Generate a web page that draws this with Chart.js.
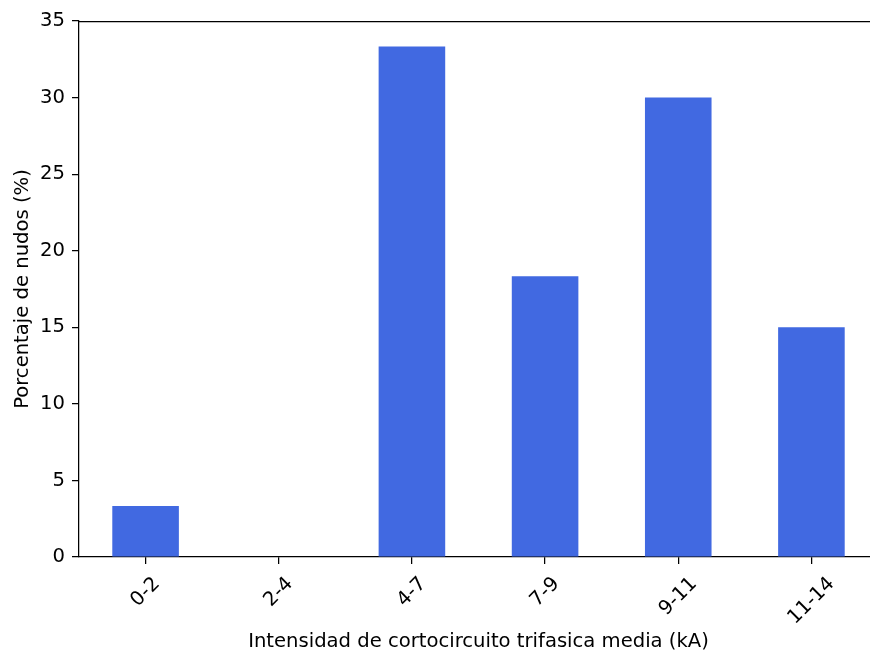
<!DOCTYPE html>
<html>
<head>
<meta charset="utf-8">
<script src="https://cdn.jsdelivr.net/npm/chart.js@4/dist/chart.umd.min.js"></script>
<style>
  html, body { margin: 0; padding: 0; background: #fff; overflow: hidden; }
  #wrap { width: 870px; height: 655px; overflow: hidden; position: relative; }
  canvas { display: block; }
</style>
</head>
<body>
<div id="wrap"><canvas id="c" width="880" height="655"></canvas></div>
<script>
const categories = ["0-2", "2-4", "4-7", "7-9", "9-11", "11-14"];
const percentages = [3.33, 0, 33.33, 18.33, 30.0, 15.0];
const yTicks = [0, 5, 10, 15, 20, 25, 30, 35];
const xTitle = "Intensidad de cortocircuito trifasica media (kA)";
const yTitle = "Porcentaje de nudos (%)";

const FONT = "'DejaVu Sans', sans-serif";
const FS = 19.6;
const TFS = 19.6;

const framePlugin = {
  id: 'frame',
  afterDraw(chart) {
    const { ctx, chartArea, scales } = chart;
    ctx.save();
    // top and right spines
    ctx.strokeStyle = '#000';
    ctx.lineWidth = 1.25;
    ctx.beginPath();
    ctx.moveTo(chartArea.left, chartArea.top + 0.5);
    ctx.lineTo(chartArea.right, chartArea.top + 0.5);
    ctx.moveTo(chartArea.right, chartArea.top);
    ctx.lineTo(chartArea.right, chartArea.bottom);
    ctx.stroke();
    // rotated x tick labels (centered on tick, like matplotlib rotation=45)
    ctx.fillStyle = '#000';
    ctx.font = FS + 'px ' + FONT;
    ctx.textAlign = 'center';
    ctx.textBaseline = 'middle';
    const topY = chartArea.bottom + 19;
    categories.forEach((lab, i) => {
      const x = scales.x.getPixelForValue(i);
      const w = ctx.measureText(lab).width;
      const h = 14;
      const cy = topY + (w + h) * Math.SQRT1_2 / 2;
      ctx.save();
      ctx.translate(x, cy);
      ctx.rotate(-Math.PI / 4);
      ctx.fillText(lab, 0, 0);
      ctx.restore();
    });
    ctx.restore();
  }
};

new Chart(document.getElementById('c'), {
  type: 'bar',
  data: {
    labels: categories,
    datasets: [{
      data: percentages,
      backgroundColor: '#4169E1',
      borderWidth: 0,
      barPercentage: 0.5,
      categoryPercentage: 1.0
    }]
  },
  options: {
    responsive: false,
    animation: false,
    devicePixelRatio: 1,
    layout: { padding: { top: 21, right: 2, bottom: 0, left: 0 } },
    plugins: { legend: { display: false }, tooltip: { enabled: false } },
    scales: {
      x: {
        type: 'category',
        offset: true,
        grid: { display: true, drawOnChartArea: false, offset: false, tickLength: 7, color: '#000', lineWidth: 1.25 },
        border: { display: true, color: '#000', width: 1.25 },
        ticks: { display: false },
        title: { display: true, text: xTitle, color: '#000', font: { family: FONT, size: TFS }, padding: { top: 4, bottom: 1 } },
        afterFit(scale) { scale.height = 98; }
      },
      y: {
        min: 0,
        max: 35,
        afterBuildTicks(scale) { scale.ticks = yTicks.map(v => ({ value: v })); },
        grid: { display: true, drawOnChartArea: false, tickLength: 7, color: '#000', lineWidth: 1.25 },
        border: { display: true, color: '#000', width: 1.25 },
        ticks: { color: '#000', font: { family: FONT, size: FS }, padding: 7 },
        title: { display: true, text: yTitle, color: '#000', font: { family: FONT, size: TFS }, padding: { top: 11, bottom: 4 } },
        afterFit(scale) { scale.width = 79; }
      }
    }
  },
  plugins: [framePlugin]
});
</script>
</body>
</html>
